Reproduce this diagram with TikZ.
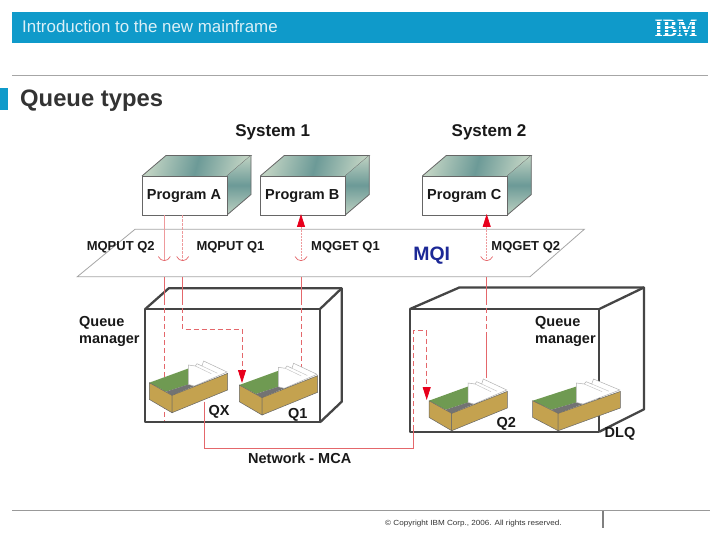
\documentclass[tikz,border=0pt]{standalone}
\usepackage{fontspec}
\setmainfont{Liberation Sans}
\newfontfamily\logofont{Liberation Serif}
\usetikzlibrary{arrows.meta,calc}
\definecolor{ibmblue}{HTML}{0F9ACA}
\definecolor{redline}{HTML}{E4676B}
\definecolor{paleline}{HTML}{EE9A9C}
\definecolor{redtip}{HTML}{E8001C}
\definecolor{boxedge}{HTML}{454545}
\definecolor{tan1}{HTML}{C4A24F}
\definecolor{green1}{HTML}{6F9A52}
\definecolor{lightteal}{HTML}{BFD2C2}
\definecolor{darkteal}{HTML}{6C9A97}
\tikzset{
  lbl/.style={inner sep=0pt,anchor=base,font=\bfseries\fontsize{14.5}{16}\selectfont,text=black!90},
  opname/.style={lbl,font=\bfseries\fontsize{13}{15}\selectfont},
  sysname/.style={lbl,font=\bfseries\fontsize{17}{19}\selectfont},
  qmname/.style={lbl,anchor=base west},
  progface/.style={draw=black!60,line width=0.8pt,fill=white,inner sep=0pt,minimum width=85pt,minimum height=39pt,anchor=north west},
  conn/.style={draw=redline,line width=0.8pt},
  dconn/.style={conn,dash pattern=on 5pt off 3pt},
  upconn/.style={draw=paleline,line width=0.8pt},
  tiphead/.style={-{Triangle[width=8pt,length=13pt,color=redtip]}},
  tailhead/.style={{Triangle[width=8pt,length=13pt,color=redtip]}-},
  qmedge/.style={draw=boxedge,line width=2.3pt,line join=round},
  plane/.style={draw=black!35,line width=0.8pt,fill=white}
}
% program box: #1 name, #2 x, #3 text
\newcommand{\progbox}[3]{%
  \shade[left color=lightteal,right color=lightteal,middle color=darkteal,shading angle=75]
     (#2,176) -- (#2+24,155.5) -- (#2+109,155.5) -- (#2+85,176) -- cycle;
  \draw[black!60,line width=0.8pt] (#2,176) -- (#2+24,155.5) -- (#2+109,155.5) -- (#2+85,176);
  \shade[top color=lightteal,bottom color=lightteal,middle color=darkteal]
     (#2+85,176) -- (#2+109,155.5) -- (#2+109,194.5) -- (#2+85,215) -- cycle;
  \draw[black!60,line width=0.8pt] (#2+109,155.5) -- (#2+109,194.5) -- (#2+85,215);
  \node[progface] (#1) at (#2,176) {};
  \node[lbl] at (#2+42,200) {#3};
}
% tray: #1 xscale, #2 x, #3 y
\newcommand{\tray}[3]{%
  \begin{scope}[shift={(#2,#3)},xscale=#1]
    \fill[green1] (0,0) -- (39.3,-14.3) -- (39.3,1.7) -- (16.7,9) -- cycle;
    \fill[black!55] (16.7,9) -- (39,1.7) -- (45,3.3) -- (22.7,12.7) -- cycle;
    \filldraw[fill=white,draw=black!30,line width=0.5pt] (39,-17.7) -- (46,-16.7) -- (47.7,-19) -- (52.7,-16.7) -- (54.3,-21.7) -- (77.7,-10.7) -- (45,3.3) -- (39,1.7) -- cycle;
    \draw[black!25,line width=0.4pt] (46,-16.7) -- (62,-9) (52.7,-16.7) -- (68,-9.5);
    \filldraw[fill=tan1,draw=black!60,line width=0.5pt] (0,0) -- (22.7,12.7) -- (22.7,30) -- (0,16.7) -- cycle;
    \filldraw[fill=tan1,draw=black!60,line width=0.5pt] (22.7,12.7) -- (78.3,-9.3) -- (78.3,7.3) -- (22.7,30) -- cycle;
  \end{scope}
}
\newcommand{\openhead}[2]{%
  \draw[redline,line width=0.7pt] (#1-6,#2-4.5) .. controls (#1-3.5,#2+1) and (#1+3.5,#2+1) .. (#1+6,#2-4.5);
}
\begin{document}
\begin{tikzpicture}[x=1pt,y=-1pt]
\useasboundingbox (0,0) rectangle (720,540);
\fill[white] (0,0) rectangle (720,540);
% header
\node[fill=ibmblue,minimum width=696pt,minimum height=31pt,inner sep=0pt,anchor=north west] (bar) at (12,12) {};
\node[inner sep=0pt,anchor=base west,text=white!85!ibmblue,font=\fontsize{16.9}{19}\selectfont] (head) at (22,32.7) {Introduction to the new mainframe};
\node[inner sep=0pt,anchor=center,text=white,font=\logofont\bfseries\fontsize{25}{25}\selectfont,xscale=0.86] (logo) at (676,28) {IBM};
\foreach \yy in {21.8,25.4,29,32.6}{\draw[ibmblue,line width=0.9pt] (650,\yy) -- (702,\yy);}
\draw[black!35,line width=1pt] (12,75.5) -- (708,75.5);
\fill[ibmblue] (0,88) rectangle (8,110);
\node[inner sep=0pt,anchor=base west,text=black!80,font=\bfseries\fontsize{23.8}{26}\selectfont] (title) at (20,106.7) {Queue types};
% footer
\draw[black!40,line width=1pt] (12,510.5) -- (710,510.5);
\draw[black!50,line width=1.3pt] (603,511) -- (603,528);
\node[inner sep=0pt,anchor=base west,text=black!80,font=\fontsize{7.4}{8}\selectfont,xscale=1.095] (copy) at (385,525) {© Copyright IBM Corp., 2006. All rights reserved.};
% MQI plane
\filldraw[plane] (135,229.3) -- (584.3,229.3) -- (530,276.7) -- (77.3,276.7) -- cycle;
% program boxes
\progbox{progA}{142}{Program A}
\progbox{progB}{260.3}{Program B}
\progbox{progC}{422.3}{Program C}
% queue manager boxes
\draw[qmedge] (145.3,309) -- (168.7,288.3) -- (341.7,288.3) -- (341.7,401.7) -- (320,422.3);
\draw[qmedge] (320,309) -- (341.7,288.3);
\draw[qmedge] (145.3,309) rectangle (320,422.3);
\draw[qmedge] (410,309) -- (459.3,287.5) -- (644,287.5) -- (644,409.3) -- (599.3,431.7);
\draw[qmedge] (599.3,309) -- (644,287.5);
\draw[qmedge] (410,309) rectangle (599.3,431.7);
% connector end points
\coordinate (a1) at (164.3,215);
\coordinate (a2) at (164.3,260);
\coordinate (a3) at (164.3,277);
\coordinate (a4) at (164.3,300);
\coordinate (a5) at (164.3,421);
\coordinate (b1) at (182.7,215);
\coordinate (b2) at (182.7,260);
\coordinate (b3) at (182.7,277);
\coordinate (b4) at (182.7,300);
\coordinate (b6) at (242,329);
\coordinate (b7) at (242,383);
\coordinate (c1) at (301,214);
\coordinate (c2) at (301,260);
\coordinate (c3) at (301,277);
\coordinate (c4) at (301,300);
\coordinate (c5) at (301,368);
\coordinate (d1) at (486.7,214);
\coordinate (d2) at (486.7,260);
\coordinate (d3) at (486.7,277);
\coordinate (d4) at (486.7,300);
\coordinate (d4b) at (486.7,333);
\coordinate (d5) at (486.7,378);
\coordinate (n1) at (204.3,401.7);
\coordinate (n2) at (204.3,448.3);
\coordinate (n3) at (413.3,448.3);
\coordinate (n4) at (413.3,330.7);
\coordinate (n5) at (426.7,330.7);
\coordinate (n6) at (426.7,400);
\coordinate (n7) at (413.3,430);
% connectors
\draw[upconn] (a1) -- (a2);
\draw[conn] (a3) -- (a4);
\draw[dconn] (a4) -- (a5);
\draw[upconn,dash pattern=on 3pt off 1pt] (b1) -- (b2);
\draw[conn] (b3) -- (b4);
\draw[dconn] (b4) |- (b6);
\draw[dconn,tiphead] (b6) -- (b7);
\draw[upconn,dash pattern=on 2pt off 1pt,tailhead] (c1) -- (c2);
\draw[conn] (c3) -- (c4);
\draw[dconn] (c4) -- (c5);
\draw[upconn,dash pattern=on 2pt off 1pt,tailhead] (d1) -- (d2);
\draw[conn] (d3) -- (d4);
\draw[dconn] (d4) -- (d4b);
\draw[conn] (d4b) -- (d5);
\draw[conn] (n1) |- (n3) -- (n7);
\draw[dconn] (n7) -- (n4) -- (n5);
\draw[dconn,tiphead] (n5) -- (n6);
\openhead{164.3}{261}
\openhead{182.7}{261}
\openhead{301}{261}
\openhead{486.7}{261}
% trays
\tray{1}{149.3}{382.7}
\tray{1}{239.3}{385}
\tray{1}{429}{400.7}
\tray{1.12}{532.7}{400.7}
% labels
\node[sysname] (s1) at (272.7,136.7) {System 1};
\node[sysname] (s2) at (489,136.7) {System 2};
\node[opname] (o1) at (120.7,250.7) {MQPUT Q2};
\node[opname] (o2) at (230.5,250.7) {MQPUT Q1};
\node[opname] (o3) at (345.5,250.7) {MQGET Q1};
\node[opname] (o4) at (525.8,250.7) {MQGET Q2};
\node[lbl,font=\bfseries\fontsize{19.4}{21}\selectfont,text={rgb,255:red,28;green,40;blue,150}] (mqi) at (431.7,260.5) {MQI};
\node[qmname] (qm1a) at (79,326) {Queue};
\node[qmname] (qm1b) at (79,343.3) {manager};
\node[qmname] (qm2a) at (535,326) {Queue};
\node[qmname] (qm2b) at (535,343.3) {manager};
\node[lbl] (qx) at (219,415.7) {QX};
\node[lbl] (q1) at (297.8,418.3) {Q1};
\node[lbl] (q2) at (506.2,427.7) {Q2};
\node[lbl] (dlq) at (620,437.3) {DLQ};
\node[lbl] (net) at (299.7,463.3) {Network - MCA};
\end{tikzpicture}
\end{document}
